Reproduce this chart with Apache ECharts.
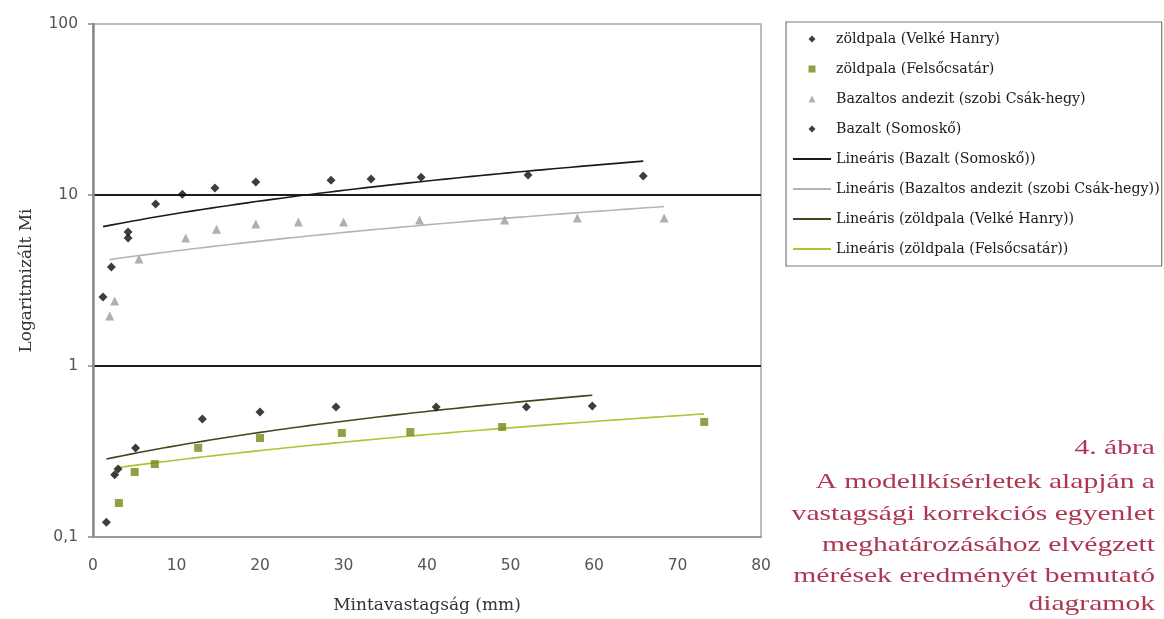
<!DOCTYPE html>
<html><head><meta charset="utf-8">
<script src="https://cdn.jsdelivr.net/npm/echarts@6/dist/echarts.min.js"></script>
<style>html,body{margin:0;padding:0;background:#fff;} #c{width:1164px;height:619px;}</style>
</head><body><div id="c"></div>
<script>
// ---- data ----
const hanryX   = [1.6, 2.6, 3.0, 5.1, 13.1, 20.0, 29.1, 41.1, 51.9, 59.8];
const hanryY   = [0.122, 0.231, 0.25, 0.331, 0.49, 0.538, 0.575, 0.575, 0.575, 0.584];
const felsoX   = [3.1, 5.0, 7.4, 12.6, 20.0, 29.8, 38.0, 49.0, 73.2];
const felsoY   = [0.158, 0.24, 0.267, 0.332, 0.379, 0.406, 0.411, 0.44, 0.471];
const andezitX = [2.0, 2.6, 5.5, 11.1, 14.8, 19.5, 24.6, 30.0, 39.1, 49.3, 58.0, 68.4];
const andezitY = [1.96, 2.4, 4.22, 5.6, 6.3, 6.77, 6.95, 6.95, 7.14, 7.14, 7.33, 7.33];
const bazaltX  = [1.2, 2.2, 4.2, 4.2, 7.5, 10.7, 14.6, 19.5, 28.5, 33.3, 39.3, 52.1, 65.9];
const bazaltY  = [2.53, 3.79, 6.08, 5.6, 8.86, 10.1, 11.0, 11.9, 12.2, 12.4, 12.7, 13.1, 12.9];

const pointNames = ['zöldpala (Velké Hanry)', 'zöldpala (Felsőcsatár)', 'Bazaltos andezit (szobi Csák-hegy)', 'Bazalt (Somoskő)'];
const trendNames = ['Lineáris (Bazalt (Somoskő))', 'Lineáris (Bazaltos andezit (szobi Csák-hegy))', 'Lineáris (zöldpala (Velké Hanry))', 'Lineáris (zöldpala (Felsőcsatár))'];

const yTickValues = [0.1, 1, 10, 100];
const yTickLabels = ['0,1', '1', '10', '100'];
const xMin = 0, xMax = 80, xStep = 10;
const xAxisTitle = 'Mintavastagság (mm)';
const yAxisTitle = 'Logaritmizált Mi';
const captionLines = ['4. ábra', 'A modellkísérletek alapján a', 'vastagsági korrekciós egyenlet', 'meghatározásához elvégzett', 'mérések eredményét bemutató', 'diagramok'];

// ---- helpers ----
function pairs(xs, ys) { return xs.map((x, i) => [x, ys[i]]); }
// Least-squares linear trendline (the spreadsheet "Lineáris" trendline), evaluated over the data's x-range
function linearTrend(xs, ys, steps) {
  const n = xs.length;
  const mx = xs.reduce((a, b) => a + b, 0) / n;
  const my = ys.reduce((a, b) => a + b, 0) / n;
  let sxy = 0, sxx = 0;
  for (let i = 0; i < n; i++) { sxy += (xs[i] - mx) * (ys[i] - my); sxx += (xs[i] - mx) ** 2; }
  const b = sxy / sxx, a = my - b * mx;
  const lo = Math.min(...xs), hi = Math.max(...xs);
  const out = [];
  for (let k = 0; k <= steps; k++) { const x = lo + (hi - lo) * k / steps; out.push([x, a + b * x]); }
  return out;
}
function yLabel(v) {
  let best = 0, bd = Infinity;
  yTickValues.forEach((t, i) => { const d = Math.abs(Math.log10(v) - Math.log10(t)); if (d < bd) { bd = d; best = i; } });
  return bd < 0.01 ? yTickLabels[best] : '';
}

const serif = "'DejaVu Serif', 'Liberation Serif', serif";
const sans = "'DejaVu Sans', 'Liberation Sans', sans-serif";

// legend marker shapes (path icons keep their aspect inside the 38px legend slot)
const iconDiamond = 'path://M5,0L10,5L5,10L0,5Z';
const iconSquare = 'path://M0,0L10,0L10,10L0,10Z';
const iconTriangle = 'path://M5,0L10,10L0,10Z';
const pointIcons = [iconDiamond, iconSquare, iconTriangle, iconDiamond];

const chart = echarts.init(document.getElementById('c'), null, { renderer: 'canvas' });

const scatterBase = { type: 'scatter', silent: true, z: 3 };
const lineBase = { type: 'line', symbol: 'none', smooth: false, silent: true, z: 2 };

chart.setOption({
  animation: false,
  backgroundColor: '#ffffff',
  grid: { left: 93, right: 403, top: 24, bottom: 82, show: true, borderColor: '#a8a8a8', borderWidth: 1.5, backgroundColor: 'transparent' },
  legend: {
    orient: 'vertical', left: 786, top: 22,
    padding: [9, 2, 9, 6], itemGap: 14, itemWidth: 38, itemHeight: 7,
    symbolKeepAspect: true,
    borderColor: '#7a7a7a', borderWidth: 1.2, backgroundColor: '#fff',
    selectedMode: false,
    textStyle: { fontFamily: serif, fontSize: 14.2, color: '#1a1a1a', lineHeight: 16 },
    data: pointNames.map((n, i) => ({ name: n, icon: pointIcons[i] }))
      .concat(trendNames.map(n => ({ name: n, itemStyle: { opacity: 0 } })))
  },
  xAxis: {
    type: 'value', min: xMin, max: xMax, interval: xStep,
    name: xAxisTitle, nameLocation: 'middle', nameGap: 60,
    nameTextStyle: { fontFamily: serif, fontSize: 17, color: '#333' },
    axisLine: { show: true, lineStyle: { color: '#9a9a9a', width: 2 } },
    axisTick: { show: false },
    axisLabel: { margin: 21, fontFamily: sans, fontSize: 15.5, color: '#555' },
    splitLine: { show: false }
  },
  yAxis: {
    type: 'log', logBase: 10, min: yTickValues[0], max: yTickValues[yTickValues.length - 1],
    name: yAxisTitle, nameLocation: 'middle', nameGap: 58,
    nameTextStyle: { fontFamily: serif, fontSize: 17, color: '#333' },
    axisLine: { show: true, lineStyle: { color: '#8a8a8a', width: 2.5 } },
    axisTick: { show: true, inside: false, length: 5, lineStyle: { color: '#8a8a8a', width: 1.5 } },
    axisLabel: { margin: 15, fontFamily: sans, fontSize: 15.5, color: '#555', formatter: yLabel },
    splitLine: { show: true, showMinLine: false, showMaxLine: false, lineStyle: { color: '#1e1e1e', width: 2 } }
  },
  series: [
    Object.assign({}, scatterBase, { name: pointNames[0], symbol: 'diamond', symbolSize: 9, itemStyle: { color: '#0c0c0c' }, data: pairs(hanryX, hanryY) }),
    Object.assign({}, scatterBase, { name: pointNames[1], symbol: 'rect', symbolSize: 8, itemStyle: { color: '#718a18' }, data: pairs(felsoX, felsoY) }),
    Object.assign({}, scatterBase, { name: pointNames[2], symbol: 'triangle', symbolSize: 9, itemStyle: { color: '#9c9c9c' }, data: pairs(andezitX, andezitY) }),
    Object.assign({}, scatterBase, { name: pointNames[3], symbol: 'diamond', symbolSize: 9, itemStyle: { color: '#0c0c0c' }, data: pairs(bazaltX, bazaltY) }),
    Object.assign({}, lineBase, { name: trendNames[0], lineStyle: { color: '#1a1a1a', width: 1.6 }, itemStyle: { color: '#1a1a1a' }, data: linearTrend(bazaltX, bazaltY, 60) }),
    Object.assign({}, lineBase, { name: trendNames[1], lineStyle: { color: '#b4b4b4', width: 1.6 }, itemStyle: { color: '#b4b4b4' }, data: linearTrend(andezitX, andezitY, 60) }),
    Object.assign({}, lineBase, { name: trendNames[2], lineStyle: { color: '#3c4a20', width: 1.6 }, itemStyle: { color: '#3c4a20' }, data: linearTrend(hanryX, hanryY, 60) }),
    Object.assign({}, lineBase, { name: trendNames[3], lineStyle: { color: '#b2c234', width: 1.6 }, itemStyle: { color: '#b2c234' }, data: linearTrend(felsoX, felsoY, 60) })
  ],
  graphic: captionLines.map((t, i) => ({
    type: 'text', silent: true,
    x: 1155, y: [448, 482, 514, 545, 576, 604][i], scaleX: 1.41,
    style: { text: t, x: 0, y: 0, align: 'right', verticalAlign: 'middle', fontFamily: "'Liberation Serif', 'DejaVu Serif', serif", fontSize: 21, fill: '#ad3650' }
  }))
});
</script>
</body></html>
